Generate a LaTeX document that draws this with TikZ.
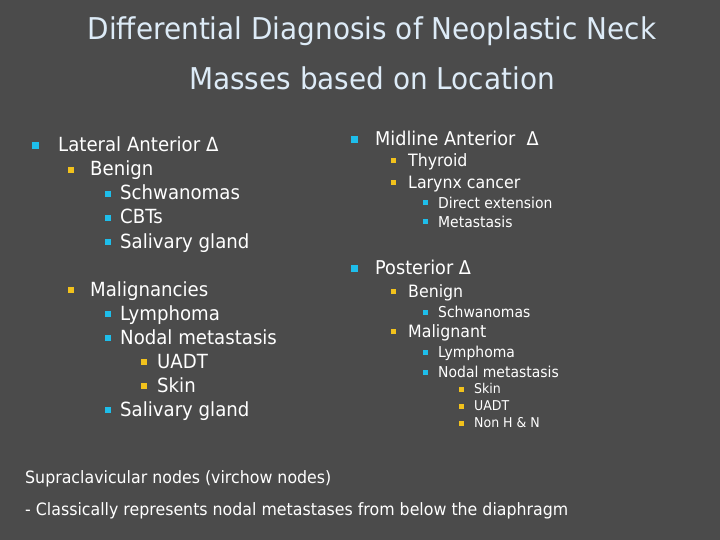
\documentclass[tikz,border=0pt]{standalone}
\usepackage{fontspec}
\setmainfont[FakeStretch=0.93]{DejaVu Sans}
\definecolor{bg}{HTML}{4B4B4B}
\definecolor{ttl}{HTML}{DDEBF7}
\definecolor{cy}{HTML}{1EBEEB}
\definecolor{yl}{HTML}{F2C21C}
\tikzset{
 t/.style={anchor=base west,inner sep=0pt,text=white},
 bl/.style={fill=#1,minimum size=6pt,inner sep=0pt,draw=none},
 fa/.style={font=\fontsize{19.5}{21}\selectfont},
 fb/.style={font=\fontsize{17}{18}\selectfont},
 fc/.style={font=\fontsize{15}{16}\selectfont},
 fd/.style={font=\fontsize{13.5}{14}\selectfont},
}
\begin{document}
\begin{tikzpicture}[x=1pt,y=-1pt]
\fill[bg] (0,0) rectangle (720,540);
\useasboundingbox (0,0) rectangle (720,540);
\node[anchor=base,text=ttl,font=\fontsize{30}{32}\selectfont,inner sep=0] (t1) at (372,40) {Differential Diagnosis of Neoplastic Neck};
\node[anchor=base,text=ttl,font=\fontsize{30}{32}\selectfont,inner sep=0] (t2) at (372,90) {Masses based on Location};
% left column
\begin{scope}[fa]
\node[bl=cy,minimum size=7pt] (b1) at (35,146) {}; \node[t] (l1) at (58,152) {Lateral Anterior Δ};
\node[bl=yl] (b2) at (71,170) {}; \node[t] (l2) at (90,176) {Benign};
\node[bl=cy] (b3) at (108,194) {}; \node[t] (l3) at (120,200) {Schwanomas};
\node[bl=cy] (b4) at (108,218) {}; \node[t] (l4) at (120,224) {CBTs};
\node[bl=cy] (b5) at (108,242) {}; \node[t] (l5) at (120,248) {Salivary gland};
\node[bl=yl] (b6) at (71,290) {}; \node[t] (l6) at (90,296) {Malignancies};
\node[bl=cy] (b7) at (108,314) {}; \node[t] (l7) at (120,320) {Lymphoma};
\node[bl=cy] (b8) at (108,338) {}; \node[t] (l8) at (120,344) {Nodal metastasis};
\node[bl=yl] (b9) at (144,362) {}; \node[t] (l9) at (157,368) {UADT};
\node[bl=yl] (b10) at (144,386) {}; \node[t] (l10) at (157,392) {Skin};
\node[bl=cy] (b11) at (108,410) {}; \node[t] (l11) at (120,416) {Salivary gland};
\end{scope}
% right column
\node[bl=cy,minimum size=7pt] (r1b) at (354,140) {}; \node[t,font=\fontsize{19}{21}\selectfont] (r1) at (375,146) {Midline Anterior~ Δ};
\node[bl=yl,minimum size=5pt] (r2b) at (393,161) {}; \node[t,fb] (r2) at (408,167) {Thyroid};
\node[bl=yl,minimum size=5pt] (r3b) at (393,183) {}; \node[t,fb] (r3) at (408,189) {Larynx cancer};
\node[bl=cy,minimum size=5pt] (r4b) at (425,203) {}; \node[t,fc] (r4) at (438,208) {Direct extension};
\node[bl=cy,minimum size=5pt] (r5b) at (425,222) {}; \node[t,fc] (r5) at (438,227) {Metastasis};
\node[bl=cy,minimum size=7pt] (r6b) at (354,268) {}; \node[t,font=\fontsize{19}{21}\selectfont] (r6) at (375,274) {Posterior Δ};
\node[bl=yl,minimum size=5pt] (r7b) at (393,291) {}; \node[t,fb] (r7) at (408,297) {Benign};
\node[bl=cy,minimum size=5pt] (r8b) at (425,312) {}; \node[t,fc] (r8) at (438,317) {Schwanomas};
\node[bl=yl,minimum size=5pt] (r9b) at (393,331) {}; \node[t,fb] (r9) at (408,337) {Malignant};
\node[bl=cy,minimum size=5pt] (r10b) at (425,352) {}; \node[t,fc] (r10) at (438,357) {Lymphoma};
\node[bl=cy,minimum size=5pt] (r11b) at (425,372) {}; \node[t,fc] (r11) at (438,377) {Nodal metastasis};
\node[bl=yl,minimum size=5pt] (r12b) at (461,389) {}; \node[t,fd] (r12) at (474,393) {Skin};
\node[bl=yl,minimum size=5pt] (r13b) at (461,406) {}; \node[t,fd] (r13) at (474,410) {UADT};
\node[bl=yl,minimum size=5pt] (r14b) at (461,423) {}; \node[t,fd] (r14) at (474,427) {Non H \& N};
% bottom
\node[t,font=\fontsize{17}{19}\selectfont] (s1) at (25,483) {Supraclavicular nodes (virchow nodes)};
\node[t,font=\fontsize{17}{19}\selectfont] (s2) at (25,515) {- Classically represents nodal metastases from below the diaphragm};
\end{tikzpicture}
\end{document}
